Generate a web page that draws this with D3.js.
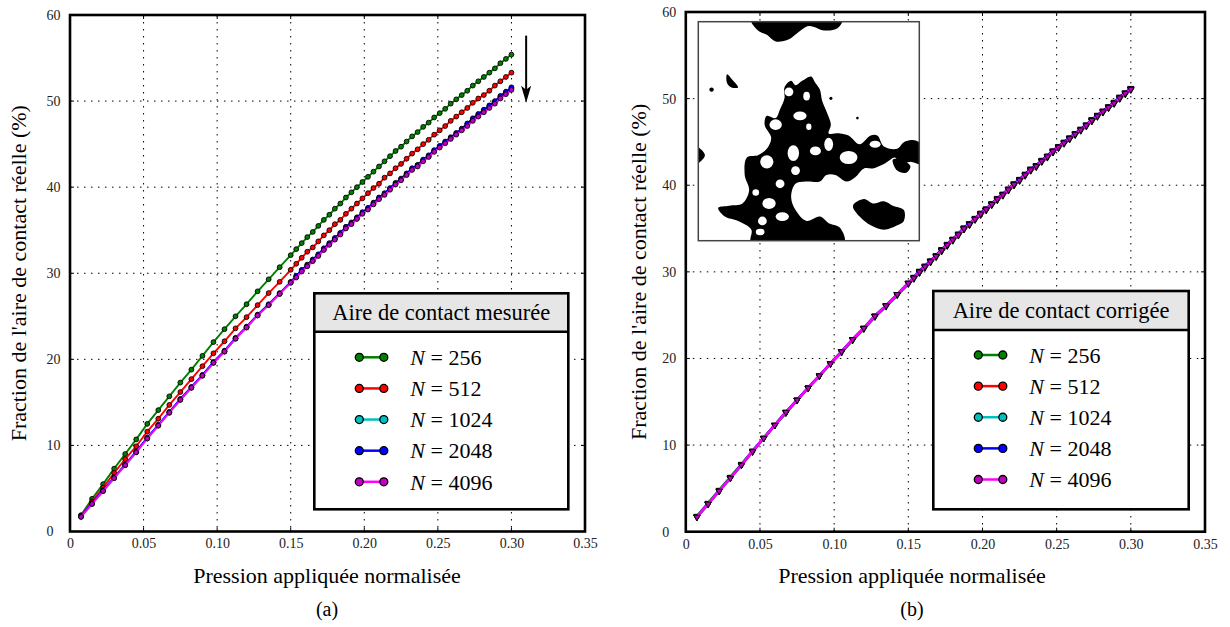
<!DOCTYPE html>
<html>
<head>
<meta charset="utf-8">
<script src="https://cdn.jsdelivr.net/npm/d3@7/dist/d3.min.js"></script>
<style>
  html, body { margin: 0; padding: 0; background: #fff; }
  svg { display: block; font-family: "Liberation Serif", "Times New Roman", Times, "DejaVu Serif", serif; }
</style>
</head>
<body>
<svg id="fig" width="1230" height="627"></svg>
<script>
// ── Data ──
const pression = [0.0075, 0.015, 0.0225, 0.03, 0.0375, 0.045, 0.0525, 0.06, 0.0675, 0.075,
  0.0825, 0.09, 0.0975, 0.105, 0.1125, 0.12, 0.1275, 0.135, 0.1425, 0.15,
  0.15375, 0.1575, 0.16125, 0.165, 0.16875, 0.1725, 0.17625, 0.18, 0.18375, 0.1875,
  0.19125, 0.195, 0.19875, 0.2025, 0.20625, 0.21, 0.21375, 0.2175, 0.22125, 0.225,
  0.22875, 0.2325, 0.23625, 0.24, 0.24375, 0.2475, 0.25125, 0.255, 0.25875, 0.2625,
  0.26625, 0.27, 0.27375, 0.2775, 0.28125, 0.285, 0.28875, 0.2925, 0.29625, 0.30];

const tailles = ["256", "512", "1024", "2048", "4096"];

// (a) aire de contact mesurée (%)
const mesure256 = [1.9, 3.8, 5.5, 7.3, 9.0, 10.7, 12.5, 14.1, 15.7, 17.3, 18.8, 20.4, 22.0, 23.5, 25.0, 26.4, 27.9, 29.3, 30.7, 32.1,
  32.8, 33.5, 34.2, 34.8, 35.5, 36.2, 36.8, 37.5, 38.1, 38.8, 39.4, 40.0, 40.6, 41.2, 41.8, 42.4, 43.0, 43.6, 44.2, 44.7,
  45.3, 45.9, 46.4, 47.0, 47.5, 48.1, 48.6, 49.1, 49.7, 50.2, 50.7, 51.2, 51.8, 52.3, 52.8, 53.3, 53.8, 54.4, 54.9, 55.4];
const mesure512 = [1.8, 3.5, 5.1, 6.8, 8.4, 9.9, 11.6, 13.1, 14.7, 16.2, 17.7, 19.2, 20.7, 22.1, 23.6, 24.9, 26.3, 27.7, 29.0, 30.4,
  31.1, 31.8, 32.5, 33.0, 33.7, 34.4, 35.0, 35.7, 36.2, 36.9, 37.5, 38.1, 38.7, 39.3, 39.9, 40.4, 41.1, 41.6, 42.2, 42.7,
  43.3, 43.9, 44.4, 45.0, 45.5, 46.1, 46.6, 47.1, 47.7, 48.2, 48.7, 49.2, 49.8, 50.3, 50.7, 51.2, 51.8, 52.3, 52.8, 53.3];
const mesure1024 = [1.7, 3.2, 4.7, 6.2, 7.7, 9.2, 10.8, 12.3, 13.8, 15.3, 16.7, 18.1, 19.6, 20.9, 22.4, 23.7, 25.1, 26.3, 27.6, 28.9,
  29.6, 30.3, 30.9, 31.5, 32.1, 32.8, 33.4, 34.0, 34.6, 35.3, 35.8, 36.4, 37.0, 37.5, 38.1, 38.7, 39.2, 39.8, 40.4, 40.9,
  41.5, 42.1, 42.5, 43.1, 43.6, 44.2, 44.7, 45.2, 45.7, 46.2, 46.7, 47.3, 47.9, 48.4, 48.9, 49.4, 49.9, 50.5, 51.0, 51.5];
const mesure2048 = [1.8, 3.3, 4.8, 6.3, 7.8, 9.3, 10.9, 12.4, 13.9, 15.4, 16.8, 18.2, 19.7, 21.0, 22.5, 23.8, 25.2, 26.4, 27.7, 29.0,
  29.7, 30.4, 31.0, 31.6, 32.2, 32.9, 33.5, 34.1, 34.7, 35.4, 35.9, 36.5, 37.1, 37.6, 38.2, 38.8, 39.3, 39.9, 40.5, 41.0,
  41.6, 42.2, 42.6, 43.2, 43.7, 44.3, 44.8, 45.3, 45.8, 46.3, 46.8, 47.4, 48.0, 48.5, 49.0, 49.5, 50.0, 50.6, 51.1, 51.6];
const mesure4096 = [1.7, 3.2, 4.7, 6.2, 7.7, 9.2, 10.8, 12.3, 13.8, 15.3, 16.7, 18.1, 19.6, 20.9, 22.4, 23.7, 25.1, 26.3, 27.6, 28.9,
  29.5, 30.2, 30.8, 31.4, 32.0, 32.7, 33.3, 33.9, 34.5, 35.2, 35.7, 36.3, 36.9, 37.4, 38.0, 38.6, 39.1, 39.7, 40.3, 40.8,
  41.4, 42.0, 42.4, 43.0, 43.5, 44.1, 44.6, 45.1, 45.6, 46.1, 46.6, 47.1, 47.7, 48.2, 48.7, 49.2, 49.7, 50.3, 50.8, 51.3];

// (b) aire de contact corrigée (%)
const corrige256 = [1.8, 3.3, 4.8, 6.3, 7.8, 9.3, 10.8, 12.3, 13.7, 15.2, 16.6, 18.0, 19.4, 20.7, 22.1, 23.4, 24.8, 26.0, 27.3, 28.6,
  29.2, 29.9, 30.5, 31.1, 31.7, 32.4, 33.0, 33.6, 34.2, 34.9, 35.4, 36.0, 36.6, 37.1, 37.7, 38.3, 38.8, 39.4, 40.0, 40.5,
  41.1, 41.7, 42.1, 42.7, 43.2, 43.8, 44.3, 44.8, 45.3, 45.8, 46.3, 46.8, 47.4, 47.9, 48.4, 48.9, 49.4, 50.0, 50.5, 51.0];
const corrige512 = [1.7, 3.2, 4.7, 6.2, 7.7, 9.2, 10.8, 12.3, 13.8, 15.2, 16.6, 18.0, 19.4, 20.8, 22.2, 23.5, 24.9, 26.1, 27.4, 28.7,
  29.3, 29.9, 30.6, 31.2, 31.8, 32.4, 33.1, 33.7, 34.3, 34.9, 35.5, 36.1, 36.6, 37.2, 37.8, 38.3, 38.9, 39.5, 40.0, 40.6,
  41.2, 41.7, 42.2, 42.8, 43.3, 43.8, 44.4, 44.9, 45.4, 45.9, 46.4, 46.9, 47.4, 48.0, 48.5, 49.0, 49.5, 50.0, 50.6, 51.1];
const corrige1024 = [1.7, 3.2, 4.7, 6.2, 7.7, 9.3, 10.8, 12.3, 13.8, 15.2, 16.6, 18.0, 19.4, 20.8, 22.2, 23.5, 24.9, 26.1, 27.4, 28.7,
  29.3, 30.0, 30.6, 31.2, 31.8, 32.5, 33.1, 33.7, 34.3, 35.0, 35.5, 36.1, 36.7, 37.2, 37.8, 38.4, 38.9, 39.5, 40.1, 40.6,
  41.2, 41.8, 42.2, 42.8, 43.3, 43.9, 44.4, 44.9, 45.4, 45.9, 46.4, 46.9, 47.5, 48.0, 48.5, 49.0, 49.5, 50.1, 50.6, 51.1];
const corrige2048 = [1.7, 3.2, 4.7, 6.2, 7.7, 9.3, 10.8, 12.3, 13.8, 15.2, 16.6, 18.0, 19.4, 20.8, 22.2, 23.5, 24.9, 26.1, 27.4, 28.7,
  29.4, 30.1, 30.7, 31.3, 31.9, 32.6, 33.2, 33.8, 34.4, 35.1, 35.6, 36.2, 36.8, 37.3, 37.9, 38.5, 39.0, 39.6, 40.2, 40.7,
  41.3, 41.9, 42.3, 42.9, 43.4, 44.0, 44.5, 45.0, 45.5, 46.0, 46.5, 47.0, 47.6, 48.1, 48.6, 49.1, 49.6, 50.2, 50.7, 51.2];
const corrige4096 = [1.7, 3.2, 4.7, 6.2, 7.7, 9.3, 10.8, 12.3, 13.8, 15.2, 16.6, 18.0, 19.4, 20.8, 22.2, 23.5, 24.9, 26.1, 27.4, 28.7,
  29.3, 30.0, 30.6, 31.2, 31.8, 32.5, 33.1, 33.7, 34.3, 35.0, 35.5, 36.1, 36.7, 37.2, 37.8, 38.4, 38.9, 39.5, 40.1, 40.6,
  41.2, 41.8, 42.2, 42.8, 43.3, 43.9, 44.4, 44.9, 45.4, 45.9, 46.4, 46.9, 47.5, 48.0, 48.5, 49.0, 49.5, 50.1, 50.6, 51.1];

const xTicks = [0, 0.05, 0.10, 0.15, 0.20, 0.25, 0.30, 0.35];
const xTickLabels = ["0", "0.05", "0.10", "0.15", "0.20", "0.25", "0.30", "0.35"];
const yTicks = [0, 10, 20, 30, 40, 50, 60];
const yTickLabels = ["0", "10", "20", "30", "40", "50", "60"];

const xTitle = "Pression appliquée normalisée";
const yTitle = "Fraction de l'aire de contact réelle (%)";

// arrow in (a): from / to, in data units
const fleche = [[0.31, 57.6], [0.31, 49.8]];

// ── Styles ──
const lineCol = ["#008000", "#ff0000", "#00bfbf", "#0000ff", "#ff00ff"];
const markCol = ["#008000", "#ff0000", "#00bfbf", "#0000ff", "#bf00bf"];
const FONT = '"Liberation Serif", "Times New Roman", Times, "DejaVu Serif", serif';

const svg = d3.select("#fig").attr("font-family", FONT);
svg.append("rect").attr("width", 1230).attr("height", 627).attr("fill", "#fff");

// ════════════════════════════════
// Panel drawing
// ════════════════════════════════
function drawPanel(P) {
  const x = d3.scaleLinear().domain([0, 0.35]).range([P.l, P.r]);
  const y = d3.scaleLinear().domain([0, 60]).range([P.b, P.t]);
  const g = svg.append("g");

  // dotted grid
  g.selectAll(".vg").data(xTicks.slice(1, -1)).join("line")
    .attr("x1", d => x(d)).attr("x2", d => x(d))
    .attr("y1", P.t).attr("y2", P.b)
    .attr("stroke", "#000").attr("stroke-width", 1).attr("stroke-dasharray", "1.5,5.5");
  g.selectAll(".hg").data(yTicks.slice(1, -1)).join("line")
    .attr("x1", P.l).attr("x2", P.r)
    .attr("y1", d => y(d)).attr("y2", d => y(d))
    .attr("stroke", "#000").attr("stroke-width", 1).attr("stroke-dasharray", "1.5,5.5");

  // inward ticks on the four sides
  const tk = 4;
  xTicks.slice(1, -1).forEach(d => {
    g.append("line").attr("x1", x(d)).attr("x2", x(d)).attr("y1", P.b).attr("y2", P.b - tk).attr("stroke", "#000");
    g.append("line").attr("x1", x(d)).attr("x2", x(d)).attr("y1", P.t).attr("y2", P.t + tk).attr("stroke", "#000");
  });
  yTicks.slice(1, -1).forEach(d => {
    g.append("line").attr("x1", P.l).attr("x2", P.l + tk).attr("y1", y(d)).attr("y2", y(d)).attr("stroke", "#000");
    g.append("line").attr("x1", P.r).attr("x2", P.r - tk).attr("y1", y(d)).attr("y2", y(d)).attr("stroke", "#000");
  });

  if (P.inset) drawInset(P.inset);

  // series: line then markers, in drawing order
  const line = d3.line().x(d => x(d[0])).y(d => y(d[1]));
  P.series.forEach((vals, i) => {
    const pts = pression.map((p, j) => [p, vals[j]]);
    g.append("path").datum(pts).attr("d", line)
      .attr("fill", "none").attr("stroke", lineCol[i]).attr("stroke-width", P.lw);
    if (P.marker === "circle") {
      g.selectAll(null).data(pts).join("circle")
        .attr("cx", d => x(d[0])).attr("cy", d => y(d[1])).attr("r", 2.4)
        .attr("fill", markCol[i]).attr("stroke", "#000").attr("stroke-width", 0.9);
    } else {
      const tri = d3.symbol(d3.symbolTriangle, 17)();
      g.selectAll(null).data(pts).join("path")
        .attr("d", tri)
        .attr("transform", d => `translate(${x(d[0])},${y(d[1])}) rotate(180)`)
        .attr("fill", markCol[i]).attr("stroke", "#000").attr("stroke-width", 0.9);
    }
  });

  // frame
  g.append("rect").attr("x", P.l).attr("y", P.t)
    .attr("width", P.r - P.l).attr("height", P.b - P.t)
    .attr("fill", "none").attr("stroke", "#000").attr("stroke-width", 2.6);

  // tick labels
  const xa = g.append("g").attr("transform", `translate(0,${P.b})`)
    .call(d3.axisBottom(x).tickValues(xTicks).tickFormat((d, i) => xTickLabels[i]).tickSize(0).tickPadding(7));
  xa.attr("font-family", FONT);
  xa.select(".domain").remove();
  xa.selectAll("text").attr("font-size", 14).attr("fill", "#222");

  g.selectAll(".ylab").data(yTicks).join("text")
    .attr("x", P.l - 23.5).attr("y", d => y(d)).attr("dy", "0.35em")
    .attr("font-size", 14).attr("fill", "#222").text((d, i) => yTickLabels[i]);

  // titles
  g.append("text").attr("x", P.xTitleX).attr("y", 583).attr("text-anchor", "middle")
    .attr("font-size", 22).attr("fill", "#000").text(xTitle);
  g.append("text").attr("transform", `translate(${P.yTitleX},${(P.t + P.b) / 2}) rotate(-90)`)
    .attr("text-anchor", "middle").attr("dy", "0.35em")
    .attr("font-size", 22).attr("fill", "#000").text(yTitle);
  g.append("text").attr("x", P.xTitleX).attr("y", 616).attr("text-anchor", "middle")
    .attr("font-size", 20).attr("fill", "#000").text(P.tag);

  if (P.arrow) {
    const [a, b] = P.arrow;
    const ax = x(a[0]), ay = y(a[1]), by = y(b[1]);
    g.append("line").attr("x1", ax).attr("x2", ax).attr("y1", ay).attr("y2", by - 12)
      .attr("stroke", "#000").attr("stroke-width", 2);
    g.append("path")
      .attr("d", `M${ax},${by} L${ax - 5},${by - 17} L${ax},${by - 13} L${ax + 5},${by - 17} Z`)
      .attr("fill", "#000");
  }

  drawLegend(P.legend);
}

// ════════════════════════════════
// Legend box
// ════════════════════════════════
function drawLegend(L) {
  const lg = svg.append("g");
  lg.append("rect").attr("x", L.x).attr("y", L.y).attr("width", L.w).attr("height", L.h)
    .attr("fill", "#fff");
  lg.append("rect").attr("x", L.x).attr("y", L.y).attr("width", L.w).attr("height", L.hh)
    .attr("fill", "#e6e6e6");
  lg.append("line").attr("x1", L.x).attr("x2", L.x + L.w).attr("y1", L.y + L.hh).attr("y2", L.y + L.hh)
    .attr("stroke", "#000").attr("stroke-width", 2.6);
  lg.append("rect").attr("x", L.x).attr("y", L.y).attr("width", L.w).attr("height", L.h)
    .attr("fill", "none").attr("stroke", "#000").attr("stroke-width", 2.6);
  lg.append("text").attr("x", L.x + L.w / 2).attr("y", L.y + L.hh / 2).attr("dy", "0.35em")
    .attr("text-anchor", "middle").attr("font-size", 22.5).attr("fill", "#000").text(L.title);

  const ey = d3.scaleLinear().domain([0, tailles.length - 1]).range([L.y + 64, L.y + 188.5]);
  tailles.forEach((n, i) => {
    const yy = ey(i), x1 = L.x + 45, x2 = L.x + 69.5;
    lg.append("line").attr("x1", x1).attr("x2", x2).attr("y1", yy).attr("y2", yy)
      .attr("stroke", lineCol[i]).attr("stroke-width", 2.5);
    [x1, x2].forEach(cx => lg.append("circle").attr("cx", cx).attr("cy", yy).attr("r", 4)
      .attr("fill", markCol[i]).attr("stroke", "#000").attr("stroke-width", 1.3));
    const t = lg.append("text").attr("x", L.x + 96).attr("y", yy).attr("dy", "0.35em")
      .attr("font-size", 22).attr("fill", "#000");
    t.append("tspan").attr("font-style", "italic").text("N");
    t.append("tspan").text(" = " + n);
  });
}

// ════════════════════════════════
// Inset: binary contact map (approximate shapes, 0–100 units)
// ════════════════════════════════
const blobs = [
  [[39,30],[42,27],[44,29],[47,27],[51,25],[53,28],[55,31],[56,36],[58,41],[60,47],[59,51],[64,51],[68,52],[73,56],
   [78,52],[81,52],[84,57],[90,58],[93,55],[97,54],[101,56],[101,65],[96,64],[91,65],[89,62],[84,65],[79,67],[75,67],
   [71,71],[67,73],[62,70],[58,70],[55,73],[49,73],[44,74],[42,80],[44,86],[49,91],[55,89],[59,92],[64,94],[66,101],
   [24,101],[24,95],[18,91],[12,89],[9,85],[14,84],[20,83],[23,77],[21,70],[22,62],[27,61],[31,58],[33,53],[30,47],
   [31,43],[35,44],[37,40],[39,35]],
  [[70,84],[75,81],[79,83],[84,82],[88,84],[93,86],[93,91],[90,93],[84,95],[78,93],[73,89]],
  [[24,-1],[65,-1],[63,3],[57,4],[50,2],[45,5],[41,8],[35,9],[31,6],[27,4]],
  [[13,24],[15,26],[18,30],[15,30],[13,28]],
  [[-1,57],[3,61],[-1,65]],
  [[88,63],[92,63],[96,66],[94,69],[90,68]]
];
const trous = [
  [43,60,2.6,3.6],[46,43,3,2],[41,32,2,2],[49,34,1.5,2],[35,47,2.8,2.4],[31,64,3,3],
  [44,68,2,2],[37,74,2,2],[32,83,3,2.5],[38,89,3,2],[29,91,2,2],[53,59,2.5,2],
  [68,62,4,3],[59,56,2,3],[28,96,2,1.5],[80,56,2.5,1.6],[50,48,1.2,1.5],[26,78,1.5,1.5]
];
const points = [[6,31,1],[93,67,1.2],[60,35,0.7],[72,44,0.6]];

function drawInset(B) {
  const sx = d3.scaleLinear().domain([0, 100]).range([B.x, B.x + B.w]);
  const sy = d3.scaleLinear().domain([0, 100]).range([B.y, B.y + B.h]);
  const ig = svg.append("g");
  ig.append("clipPath").attr("id", "insetClip").append("rect")
    .attr("x", B.x).attr("y", B.y).attr("width", B.w).attr("height", B.h);
  ig.append("rect").attr("x", B.x).attr("y", B.y).attr("width", B.w).attr("height", B.h).attr("fill", "#fff");
  const cg = ig.append("g").attr("clip-path", "url(#insetClip)");
  const shape = d3.line().x(d => sx(d[0])).y(d => sy(d[1])).curve(d3.curveCatmullRomClosed.alpha(0.5));
  cg.selectAll(".blob").data(blobs).join("path").attr("d", shape).attr("fill", "#000");
  cg.selectAll(".trou").data(trous).join("ellipse")
    .attr("cx", d => sx(d[0])).attr("cy", d => sy(d[1]))
    .attr("rx", d => sx(d[2]) - sx(0)).attr("ry", d => sy(d[3]) - sy(0)).attr("fill", "#fff");
  cg.selectAll(".pt").data(points).join("circle")
    .attr("cx", d => sx(d[0])).attr("cy", d => sy(d[1])).attr("r", d => sx(d[2]) - sx(0)).attr("fill", "#000");
  ig.append("rect").attr("x", B.x).attr("y", B.y).attr("width", B.w).attr("height", B.h)
    .attr("fill", "none").attr("stroke", "#444").attr("stroke-width", 1.5);
}

// ── Panels ──
drawPanel({
  l: 70, r: 585, t: 15, b: 531.5, lw: 1.9, marker: "circle", tag: "(a)",
  xTitleX: 327, yTitleX: 18,
  series: [mesure256, mesure512, mesure1024, mesure2048, mesure4096],
  arrow: fleche,
  legend: { x: 314.3, y: 293.3, w: 254, h: 216, hh: 38.5, title: "Aire de contact mesurée" }
});
drawPanel({
  l: 685.8, r: 1205, t: 12, b: 531.7, lw: 2.6, marker: "triangle", tag: "(b)",
  xTitleX: 912, yTitleX: 638,
  series: [corrige256, corrige512, corrige1024, corrige2048, corrige4096],
  inset: { x: 698.3, y: 21.7, w: 221, h: 219 },
  legend: { x: 933.3, y: 291, w: 255.4, h: 218.3, hh: 39, title: "Aire de contact corrigée" }
});
</script>
</body>
</html>
